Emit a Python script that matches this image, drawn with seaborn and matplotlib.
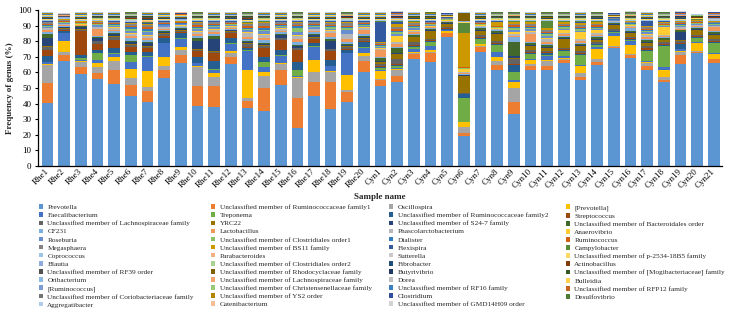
import matplotlib
matplotlib.use("Agg")
import matplotlib.pyplot as plt
from matplotlib.patches import Patch
import numpy as np
import seaborn as sns

sns.set_theme(style="ticks")
plt.rcParams["font.family"] = ["Liberation Serif", "DejaVu Serif"]

# ── Samples ──────────────────────────────────────────────────────────────────
samples = ["Rhe1", "Rhe2", "Rhe3", "Rhe4", "Rhe5", "Rhe6", "Rhe7", "Rhe8", "Rhe9", "Rhe10",
           "Rhe11", "Rhe12", "Rhe13", "Rhe14", "Rhe15", "Rhe16", "Rhe17", "Rhe18", "Rhe19", "Rhe20",
           "Cyn1", "Cyn2", "Cyn3", "Cyn4", "Cyn5", "Cyn6", "Cyn7", "Cyn8", "Cyn9", "Cyn10",
           "Cyn11", "Cyn12", "Cyn13", "Cyn14", "Cyn15", "Cyn16", "Cyn17", "Cyn18", "Cyn19", "Cyn20", "Cyn21"]

# ── Relative abundance (%) per genus, order: Rhe1..Rhe20 | Cyn1..Cyn21 ───────
prevotella = [40.6, 67.3, 58.8, 55.6, 52.6, 44.9, 40.8, 56.6, 65.8, 38.5, 38.0, 65.2, 37.4, 35.3, 51.9, 24.1, 45.0, 36.5, 40.8, 60.5,
              51.5, 53.6, 68.6, 66.9, 82.5, 19.2, 73.3, 61.5, 33.3, 61.5, 61.5, 65.8, 55.1, 65.0, 75.8, 69.4, 61.5, 53.6, 65.4, 72.6, 66.2]
rum_fam1 = [12.3, 3.8, 4.9, 3.8, 8.9, 7.0, 7.3, 4.9, 5.3, 12.8, 13.3, 4.5, 4.3, 14.9, 9.6, 19.3, 8.6, 17.3, 6.8, 7.0,
            3.6, 4.3, 3.0, 5.3, 2.5, 1.7, 3.2, 3.2, 7.9, 2.8, 2.8, 2.1, 2.1, 1.9, 0.7, 1.7, 2.8, 1.5, 5.8, 0.5, 2.1]
oscillospira = [11.8, 2.2, 3.2, 4.3, 6.0, 4.3, 2.7, 2.8, 3.3, 12.4, 6.0, 2.5, 1.7, 7.7, 3.7, 13.2, 6.4, 6.4, 1.1, 3.0,
                0.5, 3.6, 0.6, 0.8, 0.3, 4.2, 0.6, 2.6, 8.6, 0.8, 3.0, 0.8, 2.1, 1.5, 0.4, 0.5, 1.5, 2.1, 2.1, 0.3, 0.6]
prevotella_b = [0.5, 6.8, 0.4, 2.1, 2.6, 5.7, 10.1, 5.8, 2.1, 0.4, 2.1, 1.5, 18.1, 2.6, 0.8, 0.4, 7.9, 0.8, 9.7, 1.7,
                5.4, 0.5, 0.6, 1.2, 1.2, 2.8, 0.8, 2.8, 3.8, 3.0, 0.5, 0.8, 4.9, 6.8, 6.4, 6.0, 0.8, 4.3, 0.6, 5.3, 3.2]
faecalibacterium = [1.2, 4.9, 0.6, 2.1, 1.7, 4.5, 9.2, 8.5, 4.9, 1.7, 2.1, 4.5, 12.2, 3.2, 4.7, 0.4, 8.6, 3.0, 13.8, 3.6,
                    0.6, 0.6, 2.5, 2.5, 0.5, 0.4, 0.6, 3.2, 1.5, 0.8, 3.0, 1.0, 0.6, 0.8, 2.1, 2.5, 0.8, 2.1, 0.8, 0.6, 0.6]
treponema = [0.5, 0.3, 1.5, 4.3, 0.4, 4.7, 0.4, 0.5, 0.4, 0.5, 0.4, 0.8, 0.5, 2.7, 0.3, 4.1, 0.4, 0.4, 0.4, 0.5,
             1.0, 1.2, 1.0, 2.5, 0.5, 15.5, 3.0, 4.3, 5.4, 3.0, 0.6, 3.2, 6.4, 1.5, 0.5, 0.6, 6.4, 13.4, 0.6, 3.0, 6.4]
rum_fam2 = [3.6, 1.0, 1.6, 2.2, 3.6, 2.2, 2.8, 3.2, 3.2, 3.5, 5.1, 2.8, 1.6, 3.7, 3.4, 4.9, 1.7, 3.5, 1.6, 3.4,
            1.0, 1.0, 0.8, 0.8, 0.4, 2.1, 0.6, 0.6, 4.2, 0.6, 0.8, 0.6, 0.6, 0.5, 0.5, 0.6, 0.6, 0.6, 3.2, 0.5, 0.6]
streptococcus = [3.9, 0.6, 15.4, 3.6, 5.0, 3.2, 2.1, 0.8, 0.6, 3.8, 5.2, 3.2, 0.8, 5.7, 6.4, 8.0, 2.5, 6.0, 0.6, 0.6,
                 0.8, 0.6, 0.6, 0.6, 0.3, 0.3, 0.5, 0.5, 0.5, 0.6, 0.6, 0.6, 0.5, 0.5, 0.4, 0.5, 1.5, 0.5, 0.5, 0.4, 0.5]
lachno_fam = [2.0, 1.2, 1.0, 2.1, 2.1, 0.8, 1.2, 1.5, 1.2, 1.0, 0.8, 1.0, 1.5, 1.2, 1.0, 1.0, 1.2, 1.0, 1.5, 1.0,
              1.2, 3.0, 1.5, 1.0, 0.6, 0.3, 1.2, 1.2, 3.2, 1.0, 1.2, 1.0, 1.5, 1.0, 1.0, 1.0, 1.2, 1.2, 1.0, 1.0, 1.0]
yrc22 = [0.3, 0.3, 0.4, 0.3, 0.4, 0.6, 0.5, 0.5, 0.4, 0.3, 0.4, 0.4, 0.5, 0.5, 0.5, 0.4, 0.5, 0.4, 0.5, 0.5,
         1.0, 3.5, 3.2, 5.0, 2.5, 11.4, 3.0, 5.0, 0.8, 3.0, 1.5, 5.3, 3.0, 1.5, 2.5, 2.5, 1.5, 1.2, 0.8, 3.0, 3.0]
s24_7 = [5.4, 0.6, 1.0, 1.7, 1.5, 1.7, 1.5, 1.0, 0.6, 5.0, 8.0, 0.6, 1.0, 1.0, 1.5, 1.2, 1.0, 5.0, 1.0, 1.0,
         0.5, 0.8, 0.6, 0.6, 0.3, 0.3, 0.5, 0.5, 1.0, 0.6, 1.0, 0.6, 0.5, 0.5, 0.5, 0.5, 1.0, 0.5, 5.3, 0.5, 0.6]
bacteroidales = [2.7, 0.3, 0.8, 0.5, 0.6, 0.8, 0.8, 0.6, 0.4, 2.1, 1.7, 0.4, 0.5, 0.6, 1.0, 0.8, 0.8, 1.0, 0.5, 0.5,
                 2.0, 2.8, 1.0, 0.8, 0.5, 0.3, 1.0, 1.0, 9.0, 1.0, 1.0, 1.0, 1.0, 1.0, 0.8, 0.8, 1.0, 1.0, 0.8, 1.0, 1.0]
cf231 = [1.0, 0.5, 0.4, 1.0, 1.0, 1.5, 1.5, 0.8, 0.6, 1.5, 1.2, 0.6, 1.5, 1.5, 1.0, 2.0, 1.0, 1.2, 1.5, 1.2,
         1.0, 1.0, 0.8, 0.5, 0.3, 0.3, 0.5, 0.5, 3.2, 0.8, 1.0, 0.8, 0.8, 0.8, 0.4, 2.0, 0.8, 0.6, 0.6, 0.5, 0.5]
lactobacillus = [1.2, 0.5, 0.3, 4.3, 0.8, 1.5, 1.2, 0.6, 0.5, 1.0, 1.5, 0.5, 1.0, 1.5, 0.8, 1.5, 0.8, 2.5, 1.5, 3.0,
                 4.2, 1.5, 0.8, 0.4, 0.2, 0.5, 0.4, 0.4, 0.8, 5.3, 1.2, 0.8, 1.0, 0.8, 0.3, 0.4, 1.5, 0.6, 0.5, 0.4, 2.5]
phascolarctobacterium = [1.2, 0.6, 0.4, 1.0, 1.2, 0.9, 1.2, 0.8, 0.6, 1.5, 1.5, 0.8, 2.5, 2.0, 1.2, 2.0, 1.2, 1.5, 3.0, 1.0,
                         0.8, 1.2, 1.0, 0.5, 0.3, 0.8, 0.5, 0.5, 1.5, 1.2, 1.5, 1.0, 1.5, 1.0, 0.4, 0.6, 1.2, 1.0, 0.8, 0.5, 0.8]
anaerovibrio = [0.4, 0.4, 0.2, 0.5, 0.4, 1.0, 0.8, 0.4, 0.3, 0.6, 0.5, 0.4, 0.6, 0.8, 0.5, 0.8, 0.5, 0.5, 0.6, 0.4,
                0.6, 4.3, 0.8, 0.4, 0.6, 2.1, 0.4, 0.4, 1.5, 0.8, 1.0, 1.5, 4.3, 2.0, 0.5, 0.5, 0.8, 5.0, 0.4, 0.6, 0.4]
roseburia = [0.8, 0.6, 0.4, 0.8, 0.8, 1.5, 1.5, 0.8, 0.6, 1.2, 1.0, 0.6, 1.2, 1.5, 0.8, 2.0, 1.0, 1.0, 2.5, 0.8,
             0.8, 1.0, 0.8, 0.5, 0.3, 0.3, 0.4, 0.4, 1.0, 0.8, 1.2, 0.8, 0.8, 0.8, 0.3, 0.5, 0.8, 0.5, 0.6, 0.4, 0.5]
clost_order1 = [0.6, 0.3, 0.3, 0.6, 0.6, 1.0, 1.2, 0.5, 0.4, 0.8, 0.8, 0.5, 0.8, 1.0, 0.7, 2.5, 0.7, 0.8, 0.8, 0.6,
                0.6, 1.2, 0.8, 0.5, 0.3, 0.3, 0.5, 0.3, 1.5, 1.0, 1.0, 1.5, 1.2, 0.8, 0.3, 0.4, 0.8, 0.6, 0.4, 0.5, 0.5]
dialister = [0.5, 0.4, 0.3, 0.5, 0.6, 1.0, 1.0, 0.5, 0.4, 0.8, 0.7, 0.4, 0.8, 1.0, 0.6, 1.0, 0.6, 0.8, 0.8, 0.6,
             0.6, 0.8, 0.6, 0.3, 0.2, 0.2, 0.3, 0.3, 0.6, 0.6, 0.8, 0.6, 0.6, 0.6, 0.3, 0.4, 0.6, 0.4, 1.0, 0.3, 0.4]
ruminococcus = [0.8, 0.5, 0.3, 0.5, 0.6, 1.2, 1.2, 0.5, 0.4, 1.0, 0.8, 0.5, 1.2, 1.2, 0.7, 1.0, 0.7, 0.9, 1.0, 0.6,
                0.6, 1.2, 0.8, 0.4, 0.2, 0.2, 0.4, 0.3, 0.8, 0.8, 0.8, 0.6, 0.8, 0.8, 0.3, 0.4, 0.8, 0.5, 0.4, 0.4, 0.4]
megasphaera = [0.8, 0.6, 0.3, 0.6, 0.8, 1.0, 1.5, 0.6, 0.5, 1.2, 1.0, 0.6, 1.2, 1.8, 0.9, 1.2, 0.9, 1.2, 1.5, 0.8,
               0.8, 1.5, 1.0, 0.5, 0.3, 0.3, 0.5, 0.4, 1.2, 1.0, 1.2, 0.8, 1.2, 1.0, 0.4, 0.5, 1.0, 0.7, 1.0, 0.5, 0.6]
bs11 = [0.3, 0.3, 0.2, 0.3, 0.3, 0.8, 0.8, 0.3, 0.2, 0.6, 0.4, 0.3, 0.6, 0.7, 0.4, 0.5, 0.4, 0.5, 0.6, 0.3,
        0.6, 2.0, 0.8, 0.4, 0.3, 21.8, 0.4, 2.7, 0.8, 1.2, 1.0, 1.0, 1.4, 1.0, 0.3, 0.4, 0.8, 0.6, 0.2, 0.6, 0.3]
flexispira = [0.4, 0.3, 0.2, 0.2, 0.3, 0.4, 0.5, 0.3, 0.2, 0.5, 0.3, 0.3, 0.4, 0.5, 0.4, 0.5, 0.4, 0.5, 0.6, 0.3,
              12.8, 0.8, 0.4, 0.3, 0.2, 0.2, 0.2, 0.2, 0.4, 0.4, 0.5, 0.4, 0.5, 0.5, 0.2, 0.2, 3.0, 0.3, 0.2, 0.2, 0.2]
campylobacter = [0.3, 0.2, 0.2, 0.2, 0.3, 0.3, 0.5, 0.3, 0.2, 0.4, 0.3, 0.2, 0.4, 0.5, 0.3, 0.3, 0.3, 0.4, 0.4, 0.2,
                 0.6, 1.1, 0.5, 0.4, 0.2, 6.0, 0.3, 0.3, 0.6, 0.5, 4.4, 0.5, 0.7, 0.5, 0.2, 0.2, 0.4, 0.3, 0.1, 0.4, 0.2]
coprococcus = [0.3, 0.2, 0.3, 0.4, 0.3, 0.3, 0.3, 0.3, 0.2, 0.4, 0.3, 0.3, 0.4, 0.3, 0.3, 0.4, 0.3, 0.3, 0.4, 0.3,
               0.3, 0.3, 0.3, 0.3, 0.1, 0.04, 0.3, 0.3, 0.3, 0.3, 0.3, 0.3, 0.3, 0.3, 0.1, 0.3, 0.3, 0.3, 0.3, 0.2, 0.3]
parabacteroides = [0.2, 0.1, 0.2, 0.2, 0.2, 0.3, 0.2, 0.2, 0.2, 0.2, 0.2, 0.2, 0.2, 0.3, 0.2, 0.2, 0.2, 0.2, 0.2, 0.2,
                   0.2, 0.2, 0.2, 0.2, 0.1, 0.04, 0.2, 0.2, 0.2, 0.3, 0.2, 0.2, 0.2, 0.2, 0.1, 0.2, 0.2, 0.2, 0.2, 0.1, 0.3]
sutterella = [0.2, 0.2, 0.2, 0.2, 0.3, 0.2, 0.3, 0.2, 0.2, 0.2, 0.3, 0.2, 0.3, 0.2, 0.2, 0.2, 0.2, 0.2, 0.3, 0.2,
              0.2, 0.3, 0.2, 0.2, 0.1, 0.04, 0.2, 0.2, 0.3, 0.2, 0.2, 0.2, 0.2, 0.2, 0.1, 0.2, 0.2, 0.3, 0.2, 0.2, 0.4]
p2534_fam = [0.2, 0.1, 0.2, 0.2, 0.2, 0.2, 0.2, 0.2, 0.2, 0.2, 0.2, 0.2, 0.2, 0.2, 0.2, 0.2, 0.2, 0.2, 0.2, 0.2,
             0.2, 0.4, 0.2, 0.2, 0.1, 1.0, 0.2, 0.3, 0.3, 0.2, 0.2, 0.3, 0.3, 0.2, 0.1, 0.2, 0.2, 0.3, 0.2, 0.1, 0.2]
blautia = [0.3, 0.2, 0.3, 0.3, 0.3, 0.4, 0.3, 0.3, 0.3, 0.3, 0.3, 0.3, 0.3, 0.3, 0.3, 0.3, 0.3, 0.3, 0.3, 0.3,
           0.3, 0.3, 0.3, 0.3, 0.1, 0.04, 0.3, 0.3, 0.3, 0.3, 0.3, 0.3, 0.3, 0.3, 0.1, 0.4, 0.3, 0.3, 0.3, 0.2, 0.3]
clost_order2 = [0.2, 0.1, 0.2, 0.2, 0.2, 0.2, 0.2, 0.2, 0.2, 0.2, 0.2, 0.2, 0.2, 0.2, 0.2, 0.3, 0.2, 0.2, 0.2, 0.2,
                0.2, 0.2, 0.2, 0.2, 0.1, 0.04, 0.2, 0.2, 0.2, 0.2, 0.2, 0.2, 0.2, 0.2, 0.1, 0.2, 0.2, 0.2, 0.2, 0.1, 0.2]
fibrobacter = [0.2, 0.2, 0.2, 0.2, 0.2, 0.2, 0.2, 0.2, 0.2, 0.2, 0.2, 0.2, 0.2, 0.2, 0.2, 0.2, 0.2, 0.2, 0.2, 0.2,
               0.2, 0.2, 0.2, 0.2, 0.1, 0.04, 0.2, 0.2, 0.2, 0.2, 0.2, 0.2, 0.2, 0.2, 0.1, 0.2, 0.2, 0.2, 0.3, 0.2, 0.2]
actinobacillus = [0.2, 0.1, 0.2, 0.2, 0.2, 0.8, 1.0, 0.2, 0.2, 0.3, 0.2, 0.3, 1.0, 0.2, 0.2, 0.2, 0.2, 0.2, 0.3, 0.2,
                  0.2, 0.2, 0.2, 0.2, 0.1, 0.04, 0.2, 0.2, 0.2, 0.2, 0.2, 0.2, 0.2, 0.3, 0.1, 0.2, 0.2, 0.2, 0.2, 0.1, 0.2]
rf39_order = [0.2, 0.2, 0.2, 0.2, 0.2, 0.2, 0.2, 0.2, 0.2, 0.2, 0.2, 0.2, 0.2, 0.2, 0.2, 0.2, 0.2, 0.2, 0.2, 0.2,
              0.2, 0.2, 0.2, 0.2, 0.1, 0.04, 0.2, 0.2, 0.2, 0.2, 0.2, 0.2, 0.2, 0.2, 0.1, 0.3, 0.2, 0.2, 0.2, 0.2, 0.2]
rhodocyclaceae = [0.2, 0.1, 0.2, 0.2, 0.2, 0.2, 0.2, 0.2, 0.2, 0.2, 0.2, 0.2, 0.2, 0.2, 0.2, 0.2, 0.2, 0.2, 0.2, 0.2,
                  0.2, 0.3, 0.3, 0.3, 0.1, 5.0, 0.3, 0.3, 0.2, 0.2, 0.3, 0.3, 0.2, 0.3, 0.1, 0.2, 0.2, 0.2, 0.2, 0.2, 0.2]
butyrivibrio = [0.3, 0.2, 0.3, 0.3, 0.3, 0.3, 0.3, 0.3, 0.3, 0.3, 0.3, 0.3, 0.3, 0.3, 0.3, 0.3, 0.3, 0.3, 0.3, 0.3,
                0.3, 0.3, 0.3, 0.3, 0.1, 0.04, 0.3, 0.3, 0.3, 0.3, 0.3, 0.3, 0.3, 0.3, 0.1, 0.3, 0.3, 0.3, 0.6, 0.2, 0.3]
mogibacteriaceae = [0.2, 0.1, 0.2, 0.2, 0.2, 0.2, 0.2, 0.2, 0.2, 0.2, 0.2, 0.2, 0.2, 0.2, 0.2, 0.2, 0.2, 0.2, 0.2, 0.2,
                    0.2, 0.2, 0.2, 0.2, 0.1, 0.04, 0.2, 0.2, 0.3, 0.2, 0.3, 0.2, 0.2, 0.2, 0.1, 0.2, 0.2, 0.2, 0.2, 0.1, 0.2]
oribacterium = [0.2, 0.1, 0.2, 0.2, 0.2, 0.2, 0.2, 0.2, 0.2, 0.2, 0.2, 0.2, 0.2, 0.2, 0.2, 0.2, 0.2, 0.2, 0.2, 0.2,
                0.2, 0.2, 0.2, 0.2, 0.1, 0.04, 0.2, 0.2, 0.2, 0.2, 0.2, 0.2, 0.2, 0.2, 0.1, 0.3, 0.2, 0.2, 0.2, 0.1, 0.2]
lachno_fam_b = [0.2, 0.1, 0.2, 0.2, 0.2, 0.2, 0.2, 0.2, 0.2, 0.2, 0.2, 0.2, 0.2, 0.2, 0.2, 0.2, 0.2, 0.2, 0.2, 0.2,
                0.2, 0.2, 0.2, 0.2, 0.1, 0.04, 0.2, 0.2, 0.2, 0.2, 0.2, 0.2, 0.2, 0.2, 0.1, 0.2, 0.2, 0.2, 0.2, 0.1, 0.2]
dorea = [0.2, 0.1, 0.2, 0.2, 0.2, 0.3, 0.2, 0.2, 0.2, 0.2, 0.2, 0.2, 0.3, 0.2, 0.2, 0.2, 0.2, 0.2, 0.2, 0.2,
         0.2, 0.2, 0.2, 0.2, 0.1, 0.04, 0.2, 0.2, 0.2, 0.2, 0.2, 0.2, 0.2, 0.2, 0.1, 0.2, 0.2, 0.2, 0.2, 0.1, 0.3]
bulleidia = [0.2, 0.1, 0.2, 0.2, 0.2, 0.2, 0.2, 0.2, 0.2, 0.2, 0.2, 0.2, 0.2, 0.2, 0.2, 0.2, 0.2, 0.2, 0.2, 0.2,
             0.2, 0.3, 0.2, 0.2, 0.1, 0.04, 0.2, 0.2, 0.2, 0.2, 0.2, 0.2, 0.2, 0.2, 0.1, 0.2, 0.2, 0.2, 0.2, 0.1, 0.2]
ruminococcus_b = [0.2, 0.1, 0.2, 0.2, 0.2, 0.2, 0.2, 0.2, 0.2, 0.2, 0.2, 0.2, 0.2, 0.2, 0.2, 0.2, 0.2, 0.2, 0.2, 0.2,
                  0.2, 0.2, 0.2, 0.2, 0.1, 0.04, 0.2, 0.2, 0.2, 0.2, 0.2, 0.2, 0.2, 0.2, 0.1, 0.2, 0.3, 0.2, 0.2, 0.1, 0.2]
christensenellaceae = [0.2, 0.1, 0.2, 0.2, 0.2, 0.2, 0.2, 0.2, 0.2, 0.2, 0.2, 0.2, 0.2, 0.2, 0.2, 0.2, 0.2, 0.2, 0.2, 0.2,
                       0.2, 0.2, 0.2, 0.2, 0.1, 0.04, 0.2, 0.2, 0.2, 0.2, 0.2, 0.2, 0.2, 0.2, 0.1, 0.2, 0.2, 0.2, 0.2, 0.1, 0.2]
rf16_fam = [0.2, 0.1, 0.2, 0.2, 0.2, 0.2, 0.2, 0.2, 0.2, 0.2, 0.2, 0.2, 0.2, 0.2, 0.2, 0.2, 0.2, 0.2, 0.2, 0.2,
            0.2, 0.2, 0.2, 0.2, 0.1, 0.04, 0.2, 0.2, 0.2, 0.2, 0.2, 0.2, 0.2, 0.2, 0.1, 0.2, 0.2, 0.2, 0.3, 0.1, 0.2]
rfp12_fam = [0.2, 0.1, 0.2, 0.2, 0.2, 0.2, 0.2, 0.2, 0.2, 0.2, 0.2, 0.2, 0.2, 0.2, 0.2, 0.2, 0.2, 0.2, 0.2, 0.2,
             0.2, 0.2, 0.2, 0.2, 0.1, 0.04, 0.2, 0.2, 0.2, 0.2, 0.2, 0.2, 0.2, 0.2, 0.1, 0.2, 0.2, 0.2, 0.2, 0.1, 0.2]
coriobacteriaceae = [0.2, 0.1, 0.2, 0.2, 0.2, 0.2, 0.2, 0.2, 0.2, 0.2, 0.2, 0.2, 0.2, 0.2, 0.2, 0.2, 0.2, 0.2, 0.2, 0.2,
                     0.2, 0.2, 0.2, 0.2, 0.1, 0.04, 0.2, 0.2, 0.2, 0.2, 0.2, 0.2, 0.2, 0.2, 0.1, 0.2, 0.2, 0.2, 0.2, 0.1, 0.2]
ys2_order = [0.2, 0.1, 0.2, 0.2, 0.2, 0.2, 0.2, 0.2, 0.2, 0.2, 0.2, 0.2, 0.2, 0.2, 0.2, 0.2, 0.2, 0.2, 0.2, 0.2,
             0.2, 0.2, 0.2, 0.3, 0.1, 0.04, 0.2, 0.3, 0.2, 0.2, 0.2, 0.2, 0.2, 0.2, 0.1, 0.2, 0.2, 0.2, 0.2, 0.1, 0.2]
clostridium = [0.2, 0.1, 0.2, 0.2, 0.2, 0.2, 0.2, 0.2, 0.2, 0.2, 0.2, 0.2, 0.2, 0.2, 0.2, 0.2, 0.2, 0.2, 0.2, 0.2,
               0.2, 0.2, 0.2, 0.2, 0.1, 0.04, 0.2, 0.2, 0.2, 0.2, 0.2, 0.2, 0.2, 0.2, 0.1, 0.2, 0.2, 0.2, 0.2, 0.1, 0.2]
desulfovibrio = [0.2, 0.1, 0.2, 0.2, 0.2, 0.2, 0.2, 0.2, 0.2, 0.2, 0.2, 0.2, 0.2, 0.2, 0.2, 0.2, 0.2, 0.2, 0.2, 0.2,
                 0.2, 0.2, 0.2, 0.2, 0.1, 0.04, 0.2, 0.2, 0.2, 0.2, 0.2, 0.2, 0.2, 0.2, 0.1, 0.2, 0.2, 0.2, 0.2, 0.1, 0.2]
aggregatibacter = [0.2, 0.1, 0.2, 0.2, 0.2, 0.2, 0.2, 0.2, 0.2, 0.2, 0.2, 0.2, 0.2, 0.2, 0.2, 0.2, 0.2, 0.2, 0.2, 0.2,
                   0.2, 0.2, 0.2, 0.2, 0.1, 0.04, 0.2, 0.2, 0.2, 0.2, 0.2, 0.2, 0.2, 0.2, 0.1, 0.4, 0.2, 0.2, 0.2, 0.1, 0.2]
catenibacterium = [0.1, 0.1, 0.1, 0.1, 0.1, 0.1, 0.1, 0.1, 0.1, 0.1, 0.1, 0.1, 0.1, 0.1, 0.1, 0.1, 0.1, 0.1, 0.1, 0.1,
                   0.1, 0.1, 0.1, 0.1, 0.1, 0.04, 0.1, 0.1, 0.1, 0.1, 0.1, 0.1, 0.1, 0.1, 0.1, 0.1, 0.1, 0.1, 0.1, 0.1, 0.1]
gmd14h09 = [0.1, 0.1, 0.1, 0.1, 0.1, 0.1, 0.1, 0.1, 0.1, 0.1, 0.1, 0.1, 0.1, 0.1, 0.1, 0.1, 0.1, 0.1, 0.1, 0.1,
            0.1, 0.1, 0.1, 0.1, 0.1, 0.04, 0.1, 0.1, 0.1, 0.1, 0.1, 0.1, 0.1, 0.1, 0.1, 0.1, 0.1, 0.1, 0.1, 0.1, 0.1]

genera = [
    "Prevotella", "Unclassified member of Ruminococcaceae family1", "Oscillospira", "[Prevotella]",
    "Faecalibacterium", "Treponema", "Unclassified member of Ruminococcaceae family2", "Streptococcus",
    "Unclassified member of Lachnospiraceae family", "YRC22", "Unclassified member of S24-7 family",
    "Unclassified member of Bacteroidales order",
    "CF231", "Lactobacillus", "Phascolarctobacterium", "Anaerovibrio",
    "Roseburia", "Unclassified member of Clostridiales order1", "Dialister", "Ruminococcus",
    "Megasphaera", "Unclassified member of BS11 family", "Flexispira", "Campylobacter",
    "Coprococcus", "Parabacteroides", "Sutterella", "Unclassified member of p-2534-18B5 family",
    "Blautia", "Unclassified member of Clostridiales order2", "Fibrobacter", "Actinobacillus",
    "Unclassified member of RF39 order", "Unclassified member of Rhodocyclaceae family", "Butyrivibrio",
    "Unclassified member of [Mogibacteriaceae] family",
    "Oribacterium", "Unclassified member of Lachnospiraceae family", "Dorea", "Bulleidia",
    "[Ruminococcus]", "Unclassified member of Christensenellaceae family", "Unclassified member of RF16 family",
    "Unclassified member of RFP12 family",
    "Unclassified member of Coriobacteriaceae family", "Unclassified member of YS2 order", "Clostridium",
    "Desulfovibrio",
    "Aggregatibacter", "Catenibacterium", "Unclassified member of GMD14H09 order",
]

series = [prevotella, rum_fam1, oscillospira, prevotella_b, faecalibacterium, treponema,
          rum_fam2, streptococcus, lachno_fam, yrc22, s24_7, bacteroidales,
          cf231, lactobacillus, phascolarctobacterium, anaerovibrio, roseburia, clost_order1,
          dialister, ruminococcus, megasphaera, bs11, flexispira, campylobacter,
          coprococcus, parabacteroides, sutterella, p2534_fam, blautia, clost_order2,
          fibrobacter, actinobacillus, rf39_order, rhodocyclaceae, butyrivibrio, mogibacteriaceae,
          oribacterium, lachno_fam_b, dorea, bulleidia, ruminococcus_b, christensenellaceae,
          rf16_fam, rfp12_fam, coriobacteriaceae, ys2_order, clostridium, desulfovibrio,
          aggregatibacter, catenibacterium, gmd14h09]

# Office-style series palette
colors = ["#5B96D3", "#ED7D31", "#A5A5A5", "#FFC000", "#4472C4", "#70AD47",
          "#255E91", "#9E480E", "#636363", "#997300", "#264478", "#43682B",
          "#7CAFDD", "#F1975A", "#B7B7B7", "#FFCD33", "#698ED0", "#8CC168",
          "#327DC2", "#D26012", "#848484", "#CC9A00", "#335AA1", "#5A8A39",
          "#9DC3E6", "#F4B183", "#C9C9C9", "#FFD966", "#8FAADC", "#A9D18E",
          "#1F4E79", "#843C0B", "#525252", "#7F6000", "#203864", "#385723",
          "#8CB9E2", "#F4A46F", "#C0C0C0", "#FFD34D", "#7C9CD6", "#9AC97B",
          "#3A80C0", "#C8621C", "#747474", "#B38600", "#30509C", "#4E7A31",
          "#ADCDEA", "#F6BE98", "#D2D2D2"]

# ── Figure ──────────────────────────────────────────────────────────────────
fig = plt.figure(figsize=(7.29, 3.14), dpi=100)
ax = fig.add_axes([37.7 / 729, 1 - 166 / 314, 684.3 / 729, 156 / 314])

# stacked bars: draw cumulative totals from the top layer down
cum = np.cumsum(np.array(series), axis=0)
for k in range(len(series) - 1, -1, -1):
    sns.barplot(x=samples, y=cum[k], order=samples, color=colors[k], saturation=1,
                width=0.7, linewidth=0, errorbar=None, ax=ax)

ax.set_xlim(-0.59, 40.5)
ax.set_ylim(0, 100)
ax.set_yticks(range(0, 101, 10))
sns.despine(ax=ax)
for side in ["left", "bottom"]:
    ax.spines[side].set_color("black")
    ax.spines[side].set_linewidth(0.9)
ax.tick_params(axis="y", labelsize=6.5, length=2.5, width=0.8, pad=2, colors="black")
ax.tick_params(axis="x", labelsize=6.5, length=0, pad=3, colors="black")
plt.setp(ax.get_xticklabels(), rotation=45, ha="right", va="center", rotation_mode="anchor")
ax.set_xlabel("Sample name", fontsize=6.5, fontweight="bold", labelpad=2)
ax.set_ylabel("Frequency of genus (%)", fontsize=6.5, fontweight="bold", labelpad=3)

# legend: entries read row by row across 4 columns
handles = [Patch(facecolor=c, edgecolor="none") for c in colors]
order = [r * 4 + c for c in range(4) for r in range(13) if r * 4 + c < len(genera)]
fig.legend([handles[i] for i in order], [genera[i] for i in order], ncol=4,
           loc="upper left", bbox_to_anchor=(0.053, 0.349), frameon=False,
           fontsize=5.2, handlelength=0.6, handleheight=0.6, handletextpad=0.6,
           labelspacing=0.31, columnspacing=2.4, borderaxespad=0, borderpad=0)

fig.savefig("out.png", dpi=100)
plt.close(fig)
